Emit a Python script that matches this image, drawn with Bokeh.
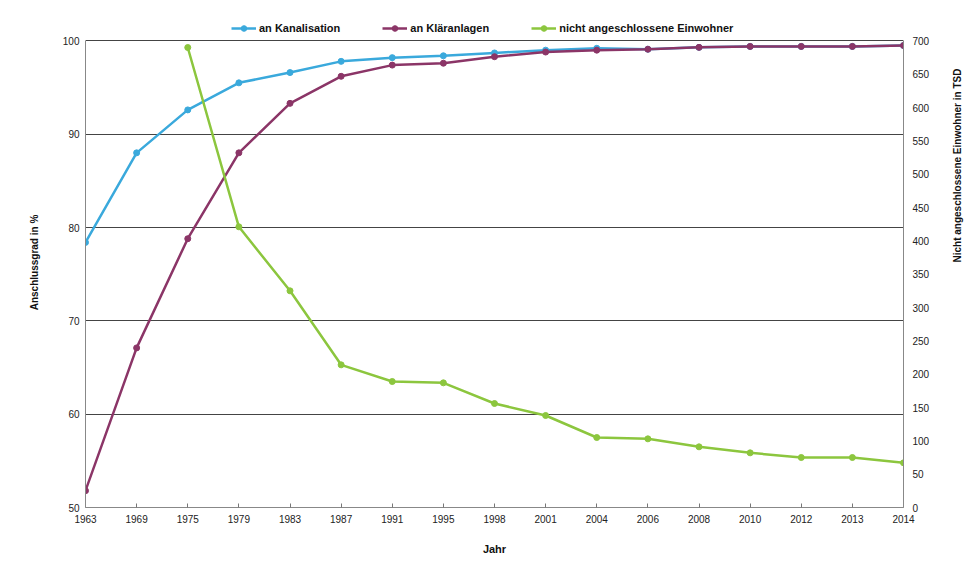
import math
from bokeh.plotting import figure
from bokeh.models import Range1d, LinearAxis, FixedTicker, Legend, LegendItem, ColumnDataSource
from bokeh.embed import file_html
from bokeh.resources import INLINE

nan = float("nan")

years = ["1963", "1969", "1975", "1979", "1983", "1987", "1991", "1995", "1998",
         "2001", "2004", "2006", "2008", "2010", "2012", "2013", "2014"]
kanalisation = [78.4, 88.0, 92.6, 95.5, 96.6, 97.8, 98.2, 98.4, 98.7,
                99.0, 99.2, 99.1, 99.3, 99.4, 99.4, 99.4, 99.5]
klaeranlagen = [51.8, 67.1, 78.8, 88.0, 93.3, 96.2, 97.4, 97.6, 98.3,
                98.8, 99.0, 99.1, 99.3, 99.4, 99.4, 99.4, 99.5]
einwohner = [nan, nan, 690, 421, 325, 214, 189, 187, 156,
             138, 105, 103, 91, 82, 75, 75, 67]

left_ticks = [50, 60, 70, 80, 90, 100]
right_ticks = list(range(0, 701, 50))
grid_ticks = [60, 70, 80, 90, 100]

BLUE = "#3aa9dc"
PURPLE = "#8b3567"
GREEN = "#8cc63e"
FONT = "Liberation Sans"

# headroom above the 100 % line for the legend row (left scale units)
HEAD = 2.5
LEFT_MIN, LEFT_MAX = 50, 100
RIGHT_MIN, RIGHT_MAX = 0, 700
scale = (RIGHT_MAX - RIGHT_MIN) / (LEFT_MAX - LEFT_MIN)

idx = list(range(len(years)))
src = ColumnDataSource(dict(x=idx, kan=kanalisation, kla=klaeranlagen, ein=einwohner))

p = figure(width=971, height=563, x_range=Range1d(0, len(years) - 1),
           y_range=Range1d(LEFT_MIN, LEFT_MAX + HEAD),
           output_backend="svg", toolbar_location=None,
           min_border_left=85, min_border_right=68, min_border_top=17, min_border_bottom=56)
p.extra_y_ranges = {"right": Range1d(RIGHT_MIN, RIGHT_MAX + HEAD * scale)}
p.outline_line_color = None
p.background_fill_color = "white"
p.border_fill_color = "white"

# x axis
xa = p.xaxis[0]
xa.ticker = FixedTicker(ticks=idx)
xa.major_label_overrides = {i: y for i, y in enumerate(years)}
xa.axis_label = "Jahr"
xa.axis_label_text_font = FONT
xa.axis_label_text_font_style = "bold"
xa.axis_label_text_font_size = "11px"
xa.axis_label_text_color = "#111111"
xa.axis_label_standoff = 17
xa.major_label_text_font = FONT
xa.major_label_text_font_size = "10px"
xa.major_label_text_color = "#222222"
xa.major_label_standoff = 7
xa.major_tick_in = 4
xa.major_tick_out = 0
xa.major_tick_line_color = "#777777"
xa.minor_tick_line_color = None
xa.axis_line_color = "#888888"

# left axis
ya = p.yaxis[0]
ya.ticker = FixedTicker(ticks=left_ticks)
ya.bounds = (LEFT_MIN, LEFT_MAX)
ya.axis_label = "Anschlussgrad in %"
ya.axis_label_text_font = FONT
ya.axis_label_text_font_style = "bold"
ya.axis_label_text_font_size = "10px"
ya.axis_label_text_color = "#111111"
ya.axis_label_standoff = 20
ya.major_label_text_font = FONT
ya.major_label_text_font_size = "10px"
ya.major_label_text_color = "#222222"
ya.major_label_standoff = 6
ya.major_tick_in = 0
ya.major_tick_out = 0
ya.minor_tick_line_color = None
ya.axis_line_color = "#888888"

# right axis
ra = LinearAxis(y_range_name="right", ticker=FixedTicker(ticks=right_ticks))
ra.bounds = (RIGHT_MIN, RIGHT_MAX)
ra.axis_label = "Nicht angeschlossene Einwohner in TSD"
ra.axis_label_text_font = FONT
ra.axis_label_text_font_style = "bold"
ra.axis_label_text_font_size = "10px"
ra.axis_label_text_color = "#111111"
ra.axis_label_standoff = 25
ra.major_label_text_font = FONT
ra.major_label_text_font_size = "10px"
ra.major_label_text_color = "#222222"
ra.major_label_standoff = 9
ra.major_tick_in = 0
ra.major_tick_out = 0
ra.minor_tick_line_color = None
ra.axis_line_color = "#888888"
try:
    ra.axis_label_orientation = math.pi / 2
except Exception:
    pass
p.add_layout(ra, "right")

p.xgrid.grid_line_color = None
p.ygrid.ticker = FixedTicker(ticks=grid_ticks)
p.ygrid.grid_line_color = "#444444"
p.ygrid.grid_line_width = 1.2

l1 = p.line("x", "kan", source=src, line_color=BLUE, line_width=2.5)
s1 = p.scatter("x", "kan", source=src, marker="circle", size=6, fill_color=BLUE, line_color=BLUE)
l2 = p.line("x", "kla", source=src, line_color=PURPLE, line_width=2.5)
s2 = p.scatter("x", "kla", source=src, marker="circle", size=6, fill_color=PURPLE, line_color=PURPLE)
l3 = p.line("x", "ein", source=src, line_color=GREEN, line_width=2.5, y_range_name="right")
s3 = p.scatter("x", "ein", source=src, marker="circle", size=6, fill_color=GREEN, line_color=GREEN,
               y_range_name="right")

legend = Legend(items=[
    LegendItem(label="an Kanalisation", renderers=[l1, s1]),
    LegendItem(label="an Kläranlagen", renderers=[l2, s2]),
    LegendItem(label="nicht angeschlossene Einwohner", renderers=[l3, s3]),
], orientation="horizontal", location=(146, 472))
legend.label_text_font = FONT
legend.label_text_font_style = "bold"
legend.label_text_font_size = "11px"
legend.label_text_color = "#111111"
legend.glyph_width = 25
legend.glyph_height = 14
legend.label_standoff = 3
legend.spacing = 42
legend.padding = 2
legend.margin = 0
legend.border_line_color = None
legend.background_fill_alpha = 0
legend.label_height = 14
p.add_layout(legend, "center")

open("out.html", "w").write(file_html(p, INLINE))
